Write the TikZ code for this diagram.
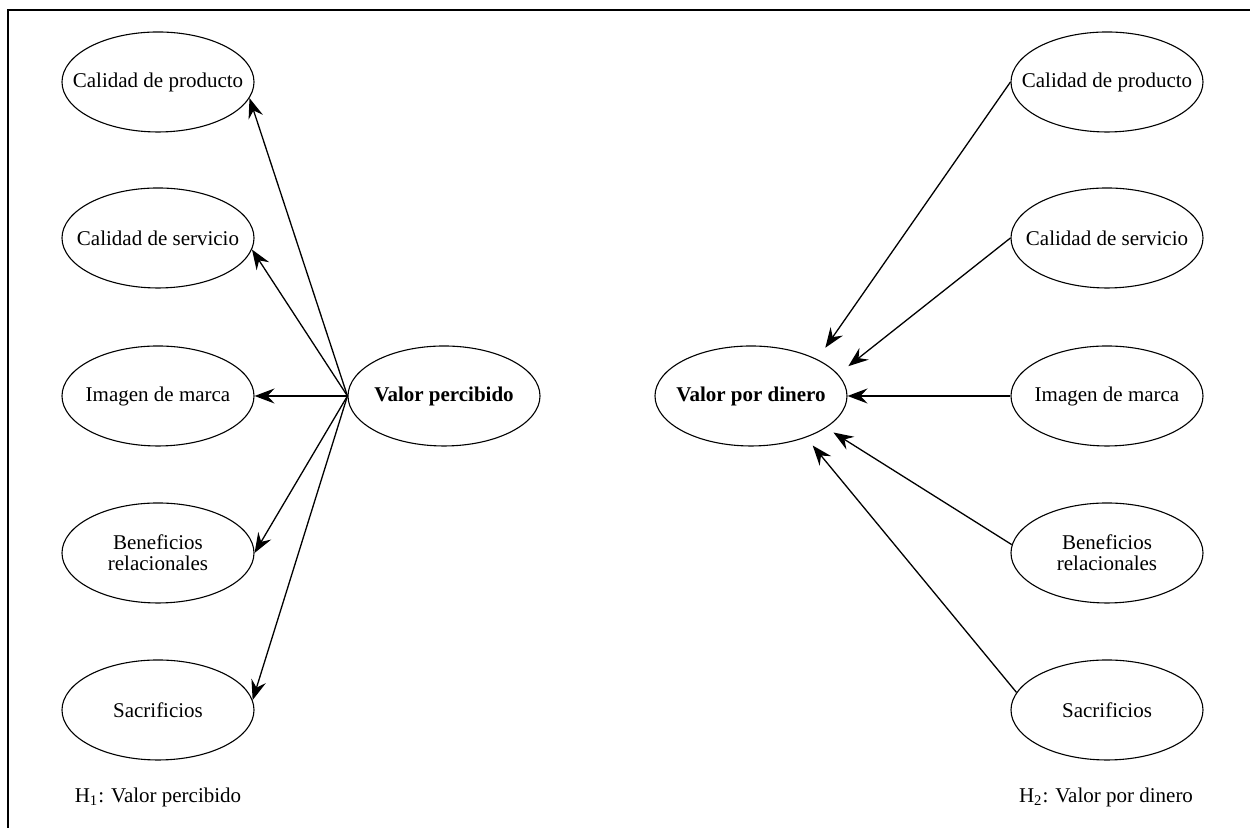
\documentclass[tikz,border=0pt]{standalone}
\usepackage{fontspec}
\setmainfont{Liberation Serif}
\usetikzlibrary{shapes.geometric, arrows.meta}

\tikzset{
  factor/.style={draw, ellipse, line width=0.55pt, minimum width=96pt, minimum height=50pt,
    inner xsep=-12pt, inner ysep=0pt, align=center, font=\fontsize{10.5}{10.5}\selectfont},
  valor/.style={factor, font=\fontsize{10.5}{12}\selectfont\bfseries},
  arr/.style={-{Stealth[length=10pt, width=7.5pt, inset=3.5pt]}, line width=0.65pt},
}

\begin{document}
\begin{tikzpicture}[x=0.5pt, y=0.5pt]
    \useasboundingbox (0,0) rectangle (1250,828);
    \draw[line width=0.7pt] (8,0) -- (8,818) -- (1250,818);

    % H1
    \node[factor] (cp1) at (158,746) {Calidad de producto};
    \node[factor] (cs1) at (158,590) {Calidad de servicio};
    \node[factor] (im1) at (158,432) {Imagen de marca};
    \node[factor] (bn1) at (158,275) {Beneficios\\relacionales};
    \node[factor] (sc1) at (158,118) {Sacrificios};
    \node[valor] (vp) at (444,432) {Valor percibido};

    \draw[arr] (vp.west) -- (cp1.-10);
    \draw[arr] (vp.west) -- (cs1.-7);
    \draw[arr] (vp.west) -- (im1.east);
    \draw[arr] (vp.west) -- (bn1.east);
    \draw[arr] (vp.west) -- (sc1.6);

    \node[font=\fontsize{10.5}{12}\selectfont] (h1) at (158,31) {H\textsubscript{1}: Valor percibido};

    % H2
    \node[factor] (cp2) at (1107,746) {Calidad de producto};
    \node[factor] (cs2) at (1107,590) {Calidad de servicio};
    \node[factor] (im2) at (1107,432) {Imagen de marca};
    \node[factor] (bn2) at (1107,275) {Beneficios\\relacionales};
    \node[factor] (sc2) at (1107,118) {Sacrificios};
    \node[valor] (vd) at (751,432) {Valor por dinero};

    \draw[arr, shorten >=7pt] (cp2.west) -- (vd.29);
    \draw[arr, shorten >=6.5pt] (cs2.west) -- (vd.14);
    \draw[arr] (im2.west) -- (vd.east);
    \draw[arr, shorten >=4.4pt] (bn2.175) -- (vd.-23);
    \draw[arr, shorten >=5.2pt] (sc2.169) -- (vd.-37);

    \node[font=\fontsize{10.5}{12}\selectfont] (h2) at (1106,31) {H\textsubscript{2}: Valor por dinero};
\end{tikzpicture}
\end{document}
